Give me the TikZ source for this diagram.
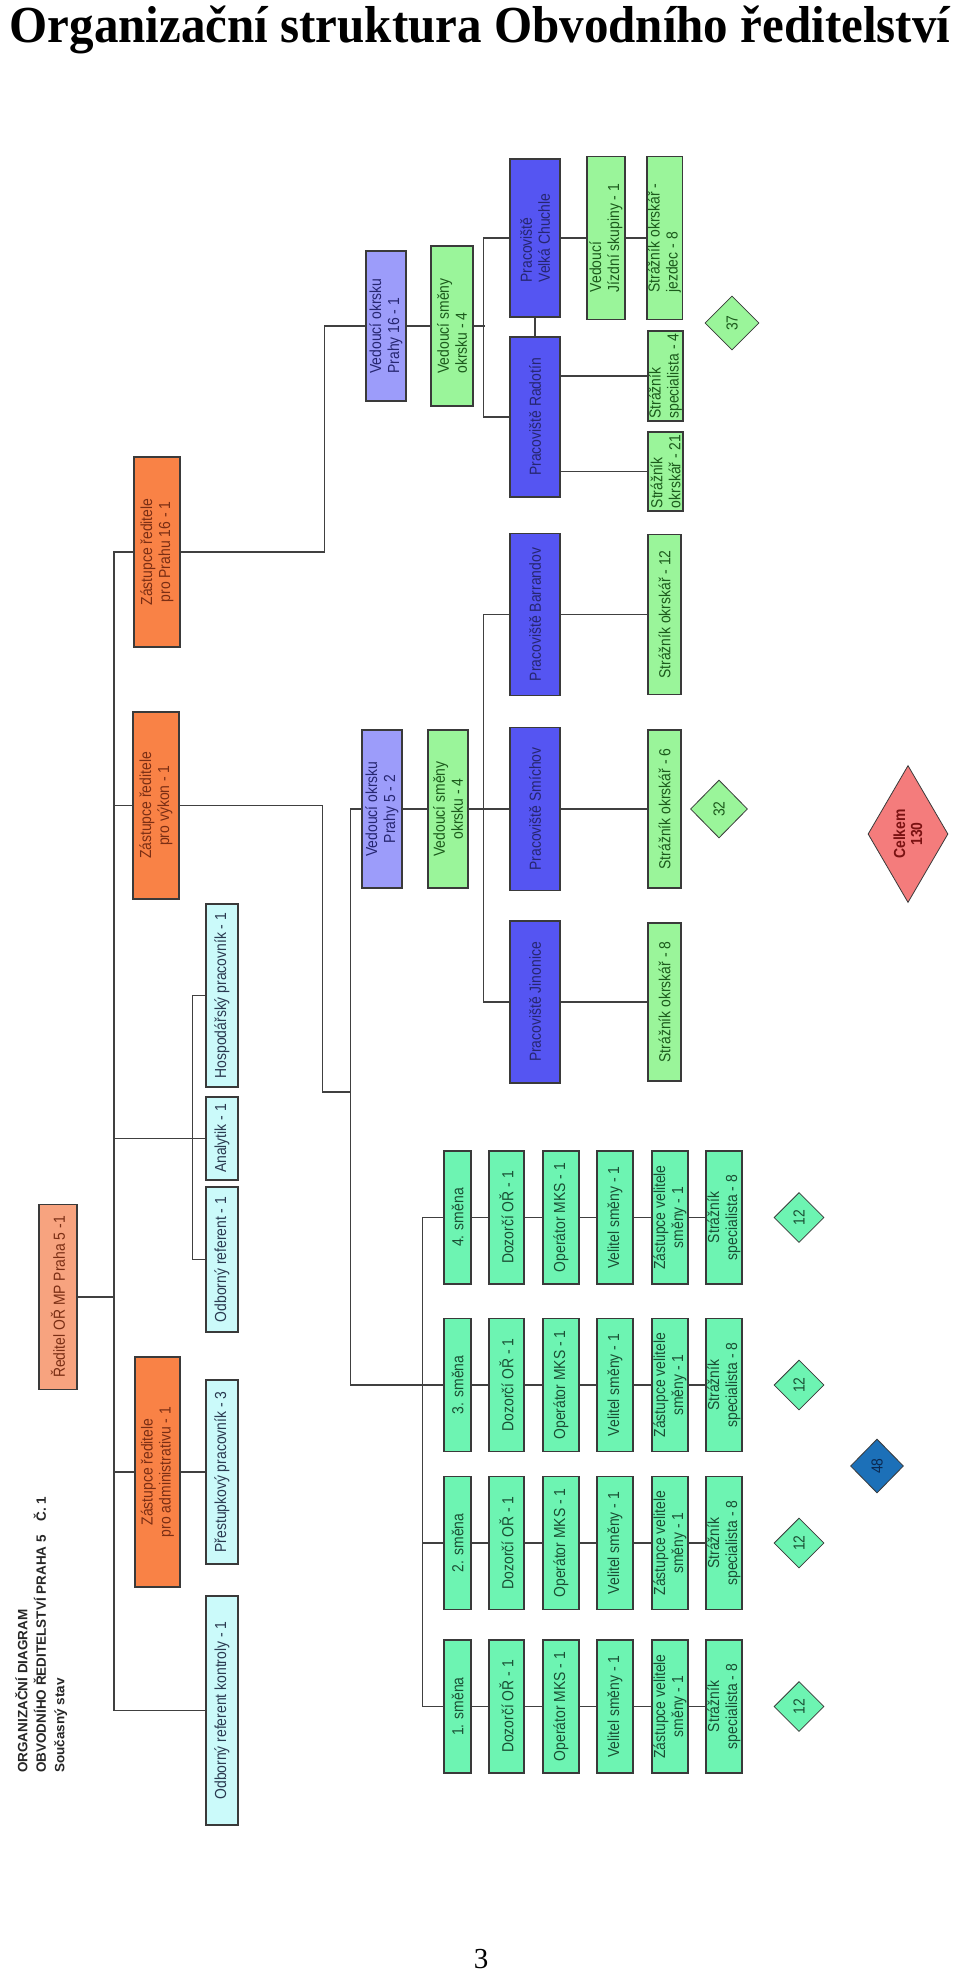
\documentclass[tikz,border=0pt]{standalone}
\usepackage{fontspec}
\setmainfont{Liberation Sans}
\newfontfamily\boxfont{Liberation Sans}[FakeStretch=0.87]
\newfontfamily\titlefont{Liberation Serif}
\usetikzlibrary{shapes.geometric}
\definecolor{orgSalmon}{HTML}{F7A37F}
\definecolor{orgOrange}{HTML}{F98246}
\definecolor{orgCyan}{HTML}{CBFAFA}
\definecolor{orgLav}{HTML}{9C9CFA}
\definecolor{orgLime}{HTML}{9AF59A}
\definecolor{orgBlue}{HTML}{5555F2}
\definecolor{orgAqua}{HTML}{6DF4B2}
\definecolor{orgDeep}{HTML}{1C70B8}
\definecolor{orgCoral}{HTML}{F47C7C}
\definecolor{orgLine}{HTML}{3A3A3A}
\definecolor{orgWire}{HTML}{404040}
\definecolor{inkBrown}{HTML}{7A2E14}
\definecolor{inkSlate}{HTML}{2A3A50}
\definecolor{inkNavy}{HTML}{262670}
\definecolor{inkGreen}{HTML}{1C5A1C}
\definecolor{inkTeal}{HTML}{1A4F34}
\definecolor{inkRed}{HTML}{7A1212}
\definecolor{inkDeep}{HTML}{0B2850}

\begin{document}
\begin{tikzpicture}[x=1pt, y=-1pt,
  box/.style={draw=orgLine, line width=1.1pt, rotate=90, inner sep=1pt, align=center,
    font=\boxfont\fontsize{16}{18}\selectfont},
  dims/.style 2 args={minimum width=#1pt, minimum height=#2pt},
  boss/.style={box, fill=orgSalmon, text=inkBrown},
  deputy/.style={box, fill=orgOrange, text=inkBrown},
  staff/.style={box, fill=orgCyan, text=inkSlate},
  chief/.style={box, fill=orgLav, text=inkNavy},
  beat/.style={box, fill=orgLime, text=inkGreen},
  site/.style={box, fill=orgBlue, text=inkNavy},
  shiftbox/.style={box, fill=orgAqua, text=inkTeal},
  tally/.style={diamond, draw=orgLine, line width=0.8pt, rotate=90, inner sep=0pt, align=center,
    font=\boxfont\fontsize{16}{18}\selectfont},
  conn/.style={draw=orgWire, line width=1.2pt}]
  \fill[white] (0,0) rectangle (960,1970);
  \useasboundingbox (0,0) rectangle (960,1970);

  \node[font=\titlefont\bfseries\fontsize{49}{52}\selectfont, anchor=base, inner sep=0pt] (title) at (480,42)
    {\scalebox{1}[1.06]{Organizační struktura Obvodního ředitelství}};
  \node[rotate=90, anchor=north west, align=left, inner sep=0pt, text=black!85,
    font=\bfseries\fontsize{13.5}{18.5}\selectfont] (hdr) at (15,1773)
    {ORGANIZAČNÍ DIAGRAM\\OBVODNÍHO ŘEDITELSTVÍ PRAHA 5\quad Č. 1\\Současný stav};

  \node[boss, dims={185}{38}] (dir) at (58,1297) {Ředitel OŘ MP Praha 5 -1};
  \node[deputy, dims={190}{46}] (z16) at (157,552) {Zástupce ředitele\\pro Prahu 16 - 1};
  \node[deputy, dims={187}{46}] (zvyk) at (156,805.5) {Zástupce ředitele\\pro výkon - 1};
  \node[deputy, dims={230}{45}] (zadm) at (157.5,1472) {Zástupce ředitele\\pro administrativu - 1};

  \node[staff, dims={183}{32}] (hosp) at (222,995.5) {Hospodářský pracovník - 1};
  \node[staff, dims={83}{32}] (anal) at (222,1138.5) {Analytik - 1};
  \node[staff, dims={145}{32}] (oref) at (222,1259.5) {Odborný referent - 1};
  \node[staff, dims={184}{32}] (prest) at (222,1472) {Přestupkový pracovník - 3};
  \node[staff, dims={229}{32}] (okon) at (222,1710.5) {Odborný referent kontroly - 1};

  \coordinate (trunk) at (114,552);
  \draw[conn] (z16.north) -- (trunk) |- (okon.north);
  \foreach \nd in {dir.south, zvyk.north, zadm.north, anal.north}
    \draw[conn] (\nd) -- (\nd -| trunk);
  \draw[conn] (hosp.north) -- ++(-13,0) |- (oref.north);
  \draw[conn] (zadm.south) -- (prest.north);

  \node[chief, dims={158}{40}] (vo5) at (382,809) {Vedoucí okrsku\\Prahy 5 - 2};
  \node[beat, dims={158}{40}] (vs5) at (448,809) {Vedoucí směny\\okrsku - 4};
  \node[site, dims={162}{50}] (barr) at (535,614.5) {Pracoviště Barrandov};
  \node[site, dims={163}{50}] (smich) at (535,809) {Pracoviště Smíchov};
  \node[site, dims={162}{50}] (jino) at (535,1002) {Pracoviště Jinonice};
  \node[beat, dims={160}{33}] (ok12) at (664.5,614.5) {Strážník okrskář - 12};
  \node[beat, dims={158}{33}] (ok6) at (664.5,809) {Strážník okrskář - 6};
  \node[beat, dims={158}{33}] (ok8) at (664.5,1002) {Strážník okrskář - 8};
  \node[tally, fill=orgLime, text=inkGreen, dims={58}{57}] (d32) at (719,809) {32};
  \node[tally, fill=orgCoral, text=inkRed, dims={137}{80}, shape aspect=1.7,
    font=\boxfont\bfseries\fontsize{16}{17}\selectfont] (total) at (908,834) {Celkem\\130};

  \coordinate (j5) at (351,1092);
  \draw[conn] (zvyk.south) -- ++(143,0) |- (j5);
  \draw[conn] (vo5.south) -- (vs5.north);
  \draw[conn] (vs5.south) -- (smich.north);
  \draw[conn] (barr.north) -- ++(-26,0) |- (jino.north);
  \draw[conn] (barr.south) -- (ok12.north);
  \draw[conn] (smich.south) -- (ok6.north);
  \draw[conn] (jino.south) -- (ok8.north);

  \node[chief, dims={150}{40}, align=left] (vo16) at (386,326) {Vedoucí okrsku\\Prahy 16 - 1};
  \node[beat, dims={160}{42}, align=left] (vs16) at (452,326) {Vedoucí směny\\okrsku - 4};
  \node[site, dims={158}{50}, align=left] (chuch) at (535,238) {Pracoviště\\Velká Chuchle};
  \node[site, dims={160}{50}] (rado) at (535,417) {Pracoviště Radotín};
  \node[beat, dims={163}{38}, align=left] (vjs) at (606,238) {Vedoucí\\Jízdní skupiny - 1};
  \node[beat, dims={163}{35}, align=left] (jezd) at (664.5,238) {Strážník okrskář -\\jezdec - 8};
  \node[beat, dims={90}{35}, align=left, inner sep=0pt] (sp4) at (665.5,376) {Strážník\\specialista - 4};
  \node[beat, dims={79}{35}, align=left, inner sep=0pt] (ok21) at (665.5,471.5) {Strážník\\okrskář - 21};
  \node[tally, fill=orgLime, text=inkGreen, dims={54}{54}] (d37) at (732,323) {37};

  \draw[conn] (z16.south) -- ++(144,0) |- (vo16.north);
  \draw[conn] (vo16.south) -- (vs16.north);
  \draw[conn] (vs16.south) -- ++(11,0);
  \draw[conn] (chuch.north) -- ++(-26,0) |- (rado.north);
  \draw[conn] (chuch.west) -- (rado.east);
  \draw[conn] (chuch.south) -- (vjs.north);
  \draw[conn] (vjs.south) -- (jezd.north);
  \draw[conn] (sp4.north -| rado.south) -- (sp4.north);
  \draw[conn] (ok21.north -| rado.south) -- (ok21.north);

  \foreach \row/\ypos in {4/1217.5, 3/1385, 2/1543, 1/1706.5}{
    \node[shiftbox, dims={133}{27}] (sm\row) at (457.5,\ypos) {\row. směna};
    \node[shiftbox, dims={133}{35}] (dz\row) at (506.5,\ypos) {Dozorčí OŘ - 1};
    \node[shiftbox, dims={133}{36}] (op\row) at (561,\ypos) {Operátor MKS - 1};
    \node[shiftbox, dims={133}{36}] (ve\row) at (615,\ypos) {Velitel směny - 1};
    \node[shiftbox, dims={133}{36}] (zv\row) at (670,\ypos) {Zástupce velitele\\směny - 1};
    \node[shiftbox, dims={133}{36}] (ss\row) at (724,\ypos) {Strážník\\specialista - 8};
    \node[tally, fill=orgAqua, text=inkTeal, dims={50}{50}] (d\row) at (799,\ypos) {12};
    \draw[conn] (sm\row) -- (dz\row) -- (op\row) -- (ve\row) -- (zv\row) -- (ss\row);
  }
  \draw[conn] (vo5.north) -- ++(-11,0) |- (sm3.north);
  \draw[conn] (sm4.north) -- ++(-21,0) |- (sm1.north);
  \draw[conn] (sm2.north) -- ++(-21,0);
  \node[tally, fill=orgDeep, text=inkDeep, dims={54}{53}] (d48) at (877,1466) {48};

  \node[font=\titlefont\fontsize{29}{30}\selectfont, anchor=base, inner sep=0pt] (pg) at (481,1968) {3};
\end{tikzpicture}
\end{document}
